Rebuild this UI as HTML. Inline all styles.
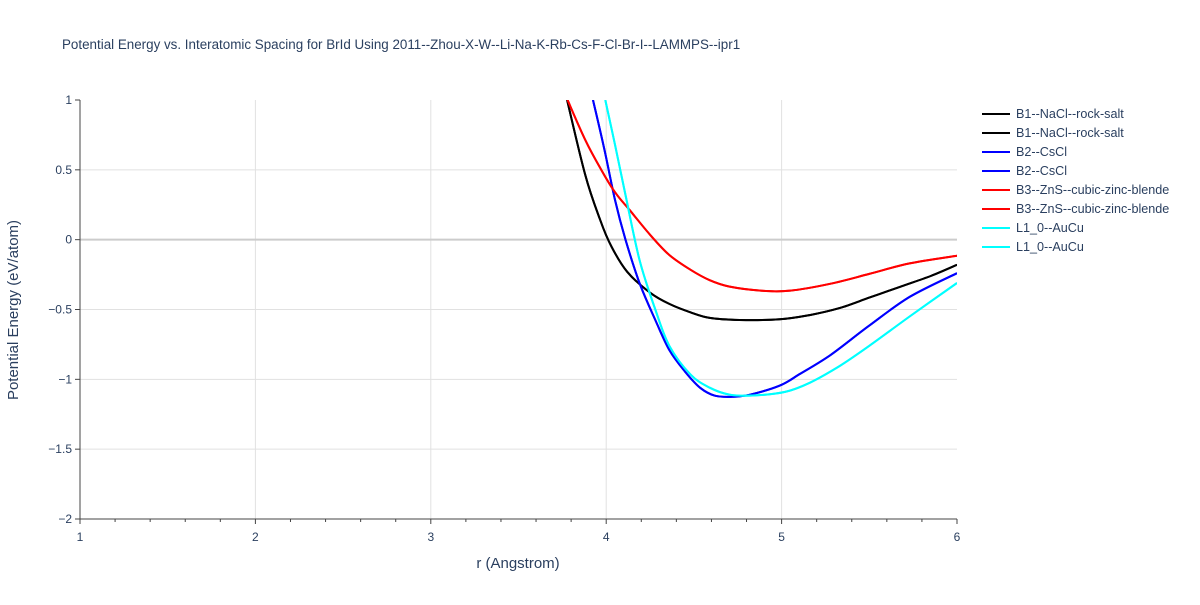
<!DOCTYPE html>
<html><head><meta charset="utf-8"><style>
body{margin:0;background:#fff;font-family:"Liberation Sans",sans-serif;}
svg text{font-family:"Liberation Sans",sans-serif;fill:#2a3f5f;}
</style></head><body>
<svg id="chart" width="1200" height="600" xmlns="http://www.w3.org/2000/svg">
<rect width="1200" height="600" fill="#fff"/>
<text x="62" y="49" font-size="13.4">Potential Energy vs. Interatomic Spacing for BrId Using 2011--Zhou-X-W--Li-Na-K-Rb-Cs-F-Cl-Br-I--LAMMPS--ipr1</text>
<defs><clipPath id="plotclip"><rect x="80" y="100" width="877" height="419"/></clipPath></defs>
<g id="grid"></g>
<g id="axes"></g>
<g id="series" clip-path="url(#plotclip)"></g>
<g id="legend"></g>
<text x="518" y="568" font-size="15" text-anchor="middle">r (Angstrom)</text>
<text transform="translate(18,310) rotate(-90)" font-size="15" text-anchor="middle">Potential Energy (eV/atom)</text>
</svg>
<script>
const xTicks=[1,2,3,4,5,6];
const yTicks=[1,0.5,0,-0.5,-1,-1.5,-2];
const yTickLabels=["1","0.5","0","−0.5","−1","−1.5","−2"];
const seriesNames=["B1--NaCl--rock-salt","B2--CsCl","B3--ZnS--cubic-zinc-blende","L1_0--AuCu"];
const seriesColors=["#000000","#0000ff","#ff0000","#00ffff"];
const b1R=[3.777,3.88,3.965,4.03,4.12,4.25,4.36,4.48,4.59,4.76,4.99,5.16,5.33,5.5,5.67,5.85,6];
const b1E=[1,0.465,0.143,-0.05,-0.23,-0.38,-0.46,-0.52,-0.56,-0.575,-0.57,-0.54,-0.49,-0.415,-0.34,-0.26,-0.18];
const b2R=[3.925,3.99,4.05,4.11,4.19,4.28,4.36,4.45,4.535,4.62,4.72,4.82,4.99,5.1,5.28,5.5,5.73,6];
const b2E=[1,0.645,0.285,0,-0.31,-0.575,-0.79,-0.945,-1.06,-1.117,-1.125,-1.11,-1.045,-0.965,-0.825,-0.615,-0.41,-0.24];
const b3R=[3.78,3.88,3.965,4.05,4.135,4.25,4.36,4.48,4.59,4.7,4.88,5.05,5.28,5.5,5.73,6];
const b3E=[1,0.715,0.515,0.34,0.21,0.035,-0.11,-0.215,-0.29,-0.335,-0.365,-0.365,-0.315,-0.245,-0.17,-0.115];
const l10R=[3.995,4.05,4.11,4.19,4.28,4.36,4.48,4.59,4.705,4.85,5.02,5.16,5.33,5.5,5.73,6];
const l10E=[1,0.68,0.32,-0.145,-0.5,-0.76,-0.965,-1.06,-1.11,-1.115,-1.09,-1.025,-0.905,-0.76,-0.55,-0.31];

const NS="http://www.w3.org/2000/svg";
const X0=80,X1=957,Y0=100,Y1=519;
function xs(r){return X0+(r-1)/(6-1)*(X1-X0);}
function ys(v){return Y1-(v-(-2))/(1-(-2))*(Y1-Y0);}
function mk(tag,attrs,parent){const e=document.createElementNS(NS,tag);for(const k in attrs)e.setAttribute(k,attrs[k]);parent.appendChild(e);return e;}
function smoothPath(p){
  let d='M'+p[0][0].toFixed(1)+','+p[0][1].toFixed(1);
  for(let i=0;i<p.length-1;i++){
    const a=p[Math.max(0,i-1)],b=p[i],c=p[i+1],e=p[Math.min(p.length-1,i+2)];
    const c1=[b[0]+(c[0]-a[0])/6,b[1]+(c[1]-a[1])/6],c2=[c[0]-(e[0]-b[0])/6,c[1]-(e[1]-b[1])/6];
    d+=' C'+c1.map(v=>v.toFixed(1)).join(',')+' '+c2.map(v=>v.toFixed(1)).join(',')+' '+c.map(v=>v.toFixed(1)).join(',');
  }
  return d;
}
const grid=document.getElementById('grid'),axes=document.getElementById('axes'),ser=document.getElementById('series'),leg=document.getElementById('legend');
xTicks.forEach(t=>{
  if(t>1&&t<6){const l=mk('line',{x1:xs(t),x2:xs(t),y1:Y0,y2:Y1,stroke:'#e1e1e1','stroke-width':1},grid);
  
  }
  const tx=mk('text',{x:xs(t),y:Y1+22,'font-size':12,'text-anchor':'middle'},axes);tx.textContent=t;
  
  
});
for(let m=1;m<=6.001;m+=0.2){const tk=mk('line',{x1:xs(m),x2:xs(m),y1:Y1,y2:Y1+(Math.abs(m-Math.round(m))<0.01?5:3),stroke:'#444','stroke-width':1},axes);
  
  }
yTicks.forEach((t,i)=>{
  if(t<1&&t>-2){const l=mk('line',{x1:X0,x2:X1,y1:ys(t),y2:ys(t),stroke:t===0?'#cccccc':'#e1e1e1','stroke-width':t===0?2:1},grid);
  
  }
  const tk=mk('line',{x1:X0-5,x2:X0,y1:ys(t),y2:ys(t),stroke:'#444'},axes);
  
  
  const tx=mk('text',{x:X0-8,y:ys(t)+4,'font-size':12,'text-anchor':'end'},axes);tx.textContent=yTickLabels[i];
  
  
});
const xa=mk('line',{x1:X0,x2:X1,y1:Y1,y2:Y1,stroke:'#444'},axes);


const ya=mk('line',{x1:X0,x2:X0,y1:Y0,y2:Y1,stroke:'#444'},axes);


const data=[[b1R,b1E],[b2R,b2E],[b3R,b3E],[l10R,l10E]];
const order=[0,0,1,1,2,2,3,3];
data.forEach((d,i)=>{
  for(let k=0;k<2;k++){
  const pts=d[0].map((r,j)=>[xs(r),ys(d[1][j])]);
  const p=mk('path',{d:smoothPath(pts),fill:'none',stroke:seriesColors[i],'stroke-width':2,'stroke-linejoin':'round'},ser);
  
  }
});
order.forEach((si,i)=>{
  const y=114+i*19;
  const g=mk('g',{},leg);
  
  
  mk('line',{x1:982,x2:1010,y1:y,y2:y,stroke:seriesColors[si],'stroke-width':2},g);
  const t=mk('text',{x:1016,y:y+4,'font-size':12.6},g);t.textContent=seriesNames[si];
});
</script>
</body></html>
